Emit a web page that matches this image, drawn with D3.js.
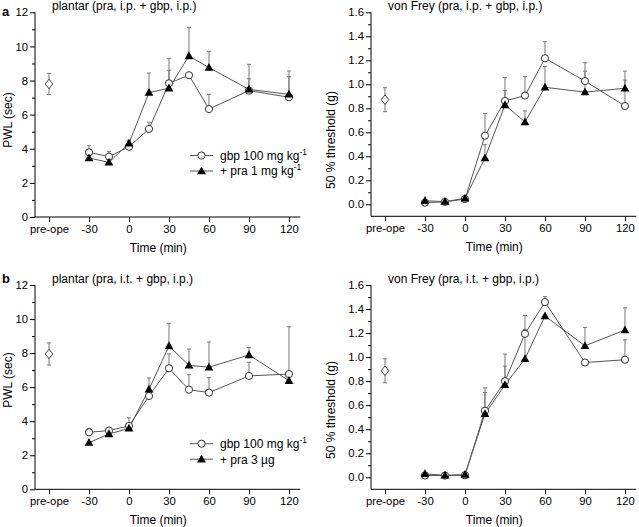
<!DOCTYPE html>
<html><head><meta charset="utf-8">
<script src="https://cdn.jsdelivr.net/npm/d3@7"></script>
<style>body{margin:0;background:#fff}svg{font-family:"Liberation Sans",Arial,sans-serif}</style>
</head><body>
<svg id="c" width="639" height="527"></svg>
<script>
// ---- data ----
const times = [-30, -15, 0, 15, 30, 45, 60, 90, 120];
const xTickVals = [-60, -30, 0, 30, 60, 90, 120];
const xTickLabels = ["pre-ope", "-30", "0", "30", "60", "90", "120"];
const preOpeTime = -60;

// panel a left: plantar (pra i.p.)
const aL_gbp = [3.79, 3.54, 4.12, 5.16, 7.84, 8.31, 6.33, 7.41, 7.02];
const aL_gbpErr = [4.18, 3.83, 4.2, 5.55, 8.6, 8.31, 7.19, 8.1, 8.23];
const aL_pra = [3.46, 3.2, 4.32, 7.29, 7.55, 9.44, 8.76, 7.48, 7.19];
const aL_praErr = [3.46, 3.2, 4.5, 8.44, 9.3, 11.12, 9.71, 8.95, 8.56];
const aL_pre = [7.8, 0.62];

// panel a right: von Frey (pra i.p.)
const aR_gbp = [0.014, 0.02, 0.044, 0.572, 0.861, 0.906, 1.217, 1.027, 0.819];
const aR_gbpErr = [0.014, 0.02, 0.044, 0.758, 1.056, 1.064, 1.355, 1.18, 1.035];
const aR_pra = [0.03, 0.022, 0.05, 0.386, 0.828, 0.686, 0.975, 0.935, 0.967];
const aR_praErr = [0.03, 0.022, 0.05, 0.497, 0.947, 0.778, 1.147, 1.11, 1.11];
const aR_pre = [0.872, 0.1];

// panel b left: plantar (pra i.t.)
const bL_gbp = [3.35, 3.45, 3.72, 5.48, 7.11, 5.85, 5.68, 6.66, 6.77];
const bL_gbpErr = [3.58, 3.45, 4.2, 5.48, 7.95, 6.73, 6.56, 7.46, 9.55];
const bL_pra = [2.74, 3.25, 3.58, 5.87, 8.42, 7.28, 7.17, 7.89, 6.38];
const bL_praErr = [2.74, 3.25, 3.58, 6.54, 9.75, 8.24, 8.65, 8.32, 6.38];
const bL_pre = [7.95, 0.65];

// panel b right: von Frey (pra i.t.)
const bR_gbp = [0.015, 0.014, 0.017, 0.553, 0.8, 1.194, 1.458, 0.955, 0.978];
const bR_gbpErr = [0.015, 0.014, 0.017, 0.744, 1.025, 1.347, 1.503, 0.955, 1.144];
const bR_pra = [0.028, 0.017, 0.022, 0.528, 0.769, 0.986, 1.342, 1.094, 1.225];
const bR_praErr = [0.028, 0.017, 0.022, 0.706, 0.925, 1.23, 1.342, 1.247, 1.41];
const bR_pre = [0.886, 0.1];

const plantarTicks = [0, 2, 4, 6, 8, 10, 12];
const plantarMinor = [1, 3, 5, 7, 9, 11];
const vfTicks = [0, 0.2, 0.4, 0.6, 0.8, 1.0, 1.2, 1.4, 1.6];
const vfMinor = [0.1, 0.3, 0.5, 0.7, 0.9, 1.1, 1.3, 1.5];

const svg = d3.select("#c");
const LINE = "#555", ERR = "#777";
const FS_TICK = 11.3, FS_TXT = 12;

function panel(opt) {
  const g = svg.append("g");
  const x = d3.scaleLinear().domain([-70.5, 128.5]).range([opt.x0, opt.x0 + 265.3]);
  const y = d3.scaleLinear().domain(opt.ydom).range([opt.yBottom, opt.yTop]);
  // axes
  const yAx = d3.axisLeft(y).tickValues(opt.ticks).tickSize(5).tickPadding(2).tickFormat(opt.fmt);
  const ya = g.append("g").attr("transform", `translate(${opt.x0},0)`).call(yAx);
  const yAm = d3.axisLeft(y).tickValues(opt.minor).tickSize(3).tickFormat("");
  const ym = g.append("g").attr("transform", `translate(${opt.x0},0)`).call(yAm);
  const xAx = d3.axisBottom(x).tickValues(xTickVals).tickSize(5).tickPadding(3)
    .tickFormat((d, i) => xTickLabels[i]);
  const xa = g.append("g").attr("transform", `translate(0,${opt.yBottom})`).call(xAx);
  [ya, ym, xa].forEach(a => {
    a.select(".domain").remove();
    a.selectAll("line").attr("stroke", "#000").attr("stroke-width", 1);
    a.selectAll("text").attr("font-size", FS_TICK).attr("fill", "#000")
      .attr("font-family", '"Liberation Sans",Arial,sans-serif');
  });
  g.append("line").attr("x1", opt.x0).attr("x2", opt.x0).attr("y1", y(opt.ydom[1])).attr("y2", opt.yBottom)
    .attr("stroke", "#000");
  g.append("line").attr("x1", opt.x0).attr("x2", x(128.5)).attr("y1", opt.yBottom).attr("y2", opt.yBottom)
    .attr("stroke", "#000");

  // labels
  g.append("text").attr("x", opt.x0 + 17).attr("y", opt.yTop - 2.5).attr("font-size", FS_TXT).text(opt.title);
  g.append("text").attr("transform", `translate(${opt.ylabX},${opt.ylabY}) rotate(-90)`)
    .attr("text-anchor", "middle").attr("font-size", FS_TXT).text(opt.ylab);
  g.append("text").attr("x", x(22)).attr("y", opt.yBottom + 34.5).attr("text-anchor", "middle")
    .attr("font-size", FS_TXT).text("Time (min)");

  const line = d3.line().x((d, i) => x(times[i])).y(d => y(d));
  // error bars
  function errs(vals, tops) {
    times.forEach((t, i) => {
      if (tops[i] - vals[i] <= 0) return;
      g.append("line").attr("x1", x(t)).attr("x2", x(t)).attr("y1", y(vals[i])).attr("y2", y(tops[i]))
        .attr("stroke", ERR).attr("stroke-width", 1);
      g.append("line").attr("x1", x(t) - 2).attr("x2", x(t) + 2).attr("y1", y(tops[i])).attr("y2", y(tops[i]))
        .attr("stroke", ERR).attr("stroke-width", 1);
    });
  }
  errs(opt.gbp, opt.gbpErr);
  errs(opt.pra, opt.praErr);
  g.append("path").datum(opt.gbp).attr("d", line).attr("fill", "none").attr("stroke", LINE).attr("stroke-width", 1);
  g.append("path").datum(opt.pra).attr("d", line).attr("fill", "none").attr("stroke", LINE).attr("stroke-width", 1);
  // preope diamond
  const px = x(preOpeTime), py = y(opt.pre[0]);
  const pt = y(opt.pre[0] + opt.pre[1]), pb = y(opt.pre[0] - opt.pre[1]);
  g.append("line").attr("x1", px).attr("x2", px).attr("y1", pt).attr("y2", pb).attr("stroke", ERR);
  [pt, pb].forEach(yy => g.append("line").attr("x1", px - 2).attr("x2", px + 2).attr("y1", yy).attr("y2", yy).attr("stroke", ERR));
  g.append("path").attr("d", `M${px},${py - 4.8}L${px + 3.8},${py}L${px},${py + 4.8}L${px - 3.8},${py}Z`)
    .attr("fill", "#fff").attr("stroke", "#444");
  // markers
  times.forEach((t, i) => {
    g.append("circle").attr("cx", x(t)).attr("cy", y(opt.gbp[i])).attr("r", 3.6)
      .attr("fill", "#fff").attr("stroke", "#333").attr("stroke-width", 1);
  });
  const tri = (cx, cy) => `M${cx},${cy - 4.6}L${cx + 4.4},${cy + 3.2}L${cx - 4.4},${cy + 3.2}Z`;
  times.forEach((t, i) => {
    g.append("path").attr("d", tri(x(t), y(opt.pra[i]))).attr("fill", "#000");
  });
  // legend
  if (opt.legend) {
    const lx = 190, ly = opt.legend.y;
    [0, 1].forEach(k => {
      const yy = ly + k * 15.5;
      g.append("line").attr("x1", lx).attr("x2", lx + 23).attr("y1", yy).attr("y2", yy).attr("stroke", LINE);
      if (k === 0) g.append("circle").attr("cx", lx + 11.5).attr("cy", yy).attr("r", 3.6).attr("fill", "#fff").attr("stroke", "#333");
      else g.append("path").attr("d", tri(lx + 11.5, yy)).attr("fill", "#000");
      const tx = g.append("text").attr("x", lx + 30).attr("y", yy + 4.3).attr("font-size", FS_TXT);
      tx.append("tspan").text(opt.legend.labels[k][0]);
      if (opt.legend.labels[k][1]) tx.append("tspan").attr("dy", -5).attr("font-size", 8.5).text(opt.legend.labels[k][1]);
    });
  }
}

const fmt1 = d3.format(".1f");
panel({x0: 35, yTop: 12.3, yBottom: 217, ydom: [0, 12], ticks: plantarTicks, minor: plantarMinor, fmt: d3.format("d"),
  title: "plantar (pra, i.p. + gbp, i.p.)", ylab: "PWL (sec)", ylabX: 12, ylabY: 120,
  gbp: aL_gbp, gbpErr: aL_gbpErr, pra: aL_pra, praErr: aL_praErr, pre: aL_pre,
  legend: {y: 155.5, labels: [["gbp 100 mg kg", "-1"], ["+ pra 1 mg kg", "-1"]]}});
panel({x0: 371, yTop: 12.3, yBottom: 216.3, ydom: [-0.1, 1.6], ticks: vfTicks, minor: vfMinor, fmt: fmt1,
  title: "von Frey (pra, i.p. + gbp, i.p.)", ylab: "50 % threshold (g)", ylabX: 335, ylabY: 140,
  gbp: aR_gbp, gbpErr: aR_gbpErr, pra: aR_pra, praErr: aR_praErr, pre: aR_pre});
panel({x0: 35, yTop: 285, yBottom: 489.3, ydom: [0, 12], ticks: plantarTicks, minor: plantarMinor, fmt: d3.format("d"),
  title: "plantar (pra, i.t. + gbp, i.p.)", ylab: "PWL (sec)", ylabX: 12, ylabY: 380,
  gbp: bL_gbp, gbpErr: bL_gbpErr, pra: bL_pra, praErr: bL_praErr, pre: bL_pre,
  legend: {y: 443.7, labels: [["gbp 100 mg kg", "-1"], ["+  pra 3 \u00b5g", ""]]}});
panel({x0: 371, yTop: 285, yBottom: 489.3, ydom: [-0.1, 1.6], ticks: vfTicks, minor: vfMinor, fmt: fmt1,
  title: "von Frey (pra, i.t. + gbp, i.p.)", ylab: "50 % threshold (g)", ylabX: 335, ylabY: 410,
  gbp: bR_gbp, gbpErr: bR_gbpErr, pra: bR_pra, praErr: bR_praErr, pre: bR_pre});

svg.append("text").attr("x", 2).attr("y", 16).attr("font-size", 13).attr("font-weight", "bold").text("a");
svg.append("text").attr("x", 2).attr("y", 283).attr("font-size", 13).attr("font-weight", "bold").text("b");
</script>
</body></html>
